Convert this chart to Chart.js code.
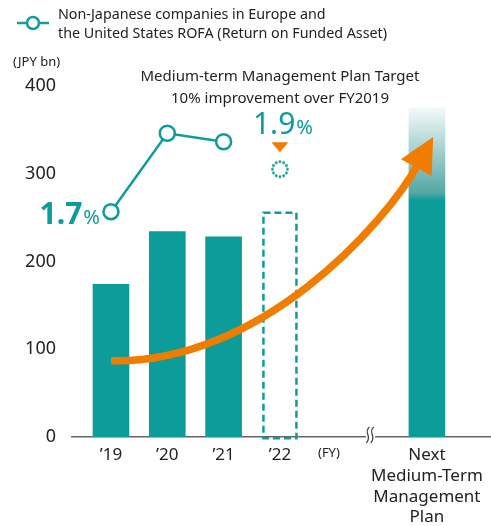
<!DOCTYPE html>
<html>
<head>
<meta charset="utf-8">
<script src="https://cdn.jsdelivr.net/npm/chart.js@4.4.1/dist/chart.umd.min.js"></script>
<style>
  body { margin: 0; background: #fff; font-family: "Noto Sans", sans-serif; color: #222; }
  #wrap { position: relative; width: 491px; height: 526px; overflow: hidden; }
  #c { position: absolute; left: 0; top: 0; }
  .txt { position: absolute; white-space: nowrap; }
</style>
</head>
<body>
<div id="wrap">
  <canvas id="c" width="491" height="526"></canvas>
  <svg style="position:absolute;left:14px;top:14px" width="40" height="18">
    <line x1="3" y1="9" x2="35" y2="9" stroke="#129f9b" stroke-width="2.5"/>
    <circle cx="19" cy="9" r="6" fill="#fff" stroke="#129f9b" stroke-width="2.5"/>
  </svg>
  <div class="txt" style="left:58px;top:4px;font-size:14.3px;line-height:19px">Non-Japanese companies in Europe and<br>the United States ROFA (Return on Funded Asset)</div>
  <div class="txt" style="left:13px;top:52px;font-size:13px">(JPY bn)</div>
  <div class="txt" style="left:130px;top:64px;width:300px;text-align:center;font-size:15px;line-height:22px">Medium-term Management Plan Target<br>10% improvement over FY2019</div>
</div>
<script>
// x positions on the (linear) x axis, one unit per fiscal year
const categories = ['’19', '’20', '’21', '’22'];
const fyLabel = '(FY)';
const nextLabel = ['Next', 'Medium-Term', 'Management', 'Plan'];
const barPos = [0, 1, 2, 3, 5.61];
const fyPos = 3.87;
const breakPos = 4.6;

// JPY bn (last two are targets)
const barValues = [174, 234, 228, 257, 375];
// ROFA %
const rofaPos = [0, 1, 2];
const rofaValues = [1.7, 2.07, 2.03];
const rofaTargetPos = 3;
const rofaTarget = 1.9;

// orange arrow: from '19 to next plan (data units)
const arrowFrom = { x: 0, y: 87 };
const arrowTo = { x: 5.72, y: 342 };

const TEAL = '#0c9d9a';
const ORANGE = '#f07d00';
const FONT = '"Noto Sans", sans-serif';

// dotted circle used as point style for the target
function dottedCircle() {
  const cv = document.createElement('canvas');
  cv.width = 22; cv.height = 22;
  const g = cv.getContext('2d');
  g.fillStyle = TEAL;
  for (let i = 0; i < 12; i++) {
    const a = (i / 12) * Math.PI * 2;
    g.beginPath();
    g.arc(11 + Math.cos(a) * 7.5, 11 + Math.sin(a) * 7.5, 1.4, 0, Math.PI * 2);
    g.fill();
  }
  return cv;
}

function barColor(ctx) {
  const i = ctx.dataIndex;
  if (i === 3) return 'rgba(0,0,0,0)';
  if (i === 4) {
    const chart = ctx.chart;
    if (!chart.chartArea) return TEAL;
    const y = chart.scales.y;
    const top = y.getPixelForValue(barValues[4]);
    const mid = y.getPixelForValue(270);
    const grad = chart.ctx.createLinearGradient(0, top, 0, mid);
    grad.addColorStop(0, '#f4f9f9');
    grad.addColorStop(0.92, '#55a7a6');
    grad.addColorStop(1, TEAL);
    return grad;
  }
  return TEAL;
}

const overlays = {
  id: 'overlays',
  afterDatasetsDraw(chart) {
    const { ctx, scales } = chart;
    const x = scales.x, y = scales.y;

    // dashed outline for the FY2022 target bar
    const bar = chart.getDatasetMeta(0).data[3];
    ctx.save();
    ctx.strokeStyle = TEAL;
    ctx.lineWidth = 2.5;
    ctx.setLineDash([7, 4]);
    const w = bar.width;
    ctx.strokeRect(bar.x - w / 2 + 1.5, bar.y + 1.2, w - 3, bar.base - bar.y);
    ctx.restore();

    // break mark on the x axis
    const bx = x.getPixelForValue(breakPos);
    const by = chart.chartArea.bottom;
    ctx.save();
    ctx.fillStyle = '#fff';
    ctx.fillRect(bx - 4, by - 3, 9, 6);
    ctx.strokeStyle = '#444';
    ctx.lineWidth = 1.3;
    [-2.2, 2.2].forEach((o) => {
      const cx = bx + o;
      ctx.beginPath();
      ctx.moveTo(cx + 1.5, by - 10);
      ctx.bezierCurveTo(cx - 5, by - 4, cx + 5, by - 1, cx - 1.5, by + 6);
      ctx.stroke();
    });
    ctx.restore();

    // orange curved arrow
    const p0 = { x: x.getPixelForValue(arrowFrom.x), y: y.getPixelForValue(arrowFrom.y) };
    const tip = { x: x.getPixelForValue(arrowTo.x), y: y.getPixelForValue(arrowTo.y) };
    const dir = { x: 0.48, y: -0.878 };
    const headLen = 31, headHalf = 17.5;
    const base = { x: tip.x - dir.x * headLen, y: tip.y - dir.y * headLen };
    const p1 = { x: p0.x + (base.x - p0.x) * 0.48, y: p0.y + 4 };
    const p2 = { x: base.x - dir.x * 70, y: base.y - dir.y * 70 };
    ctx.save();
    ctx.strokeStyle = ORANGE;
    ctx.lineWidth = 7.5;
    ctx.beginPath();
    ctx.moveTo(p0.x, p0.y);
    ctx.bezierCurveTo(p1.x, p1.y, p2.x, p2.y, base.x + dir.x * 2, base.y + dir.y * 2);
    ctx.stroke();
    ctx.fillStyle = ORANGE;
    ctx.beginPath();
    ctx.moveTo(tip.x, tip.y);
    ctx.lineTo(base.x - dir.y * headHalf - dir.x * 4, base.y + dir.x * headHalf - dir.y * 4);
    ctx.lineTo(base.x + dir.y * headHalf - dir.x * 4, base.y - dir.x * headHalf - dir.y * 4);
    ctx.closePath();
    ctx.fill();
    ctx.restore();
  },
  afterDraw(chart) {
    const { ctx } = chart;
    ctx.save();
    ctx.textBaseline = 'alphabetic';

    // 1.7% next to the first ROFA point
    const first = chart.getDatasetMeta(1).data[0];
    ctx.fillStyle = TEAL;
    ctx.font = '20px ' + FONT;
    ctx.textAlign = 'right';
    const pctW = ctx.measureText('%').width;
    ctx.fillText('%', first.x - 11, first.y + 12);
    ctx.font = 'bold 30px ' + FONT;
    ctx.fillText(rofaValues[0].toFixed(1), first.x - 12 - pctW, first.y + 12);

    // 1.9% target above the dotted point
    const tgt = chart.getDatasetMeta(2).data[0];
    ctx.textAlign = 'left';
    ctx.font = '30px ' + FONT;
    const numTxt = rofaTarget.toFixed(1);
    const numW = ctx.measureText(numTxt).width;
    ctx.font = '20px ' + FONT;
    const pW = ctx.measureText('%').width;
    const left = tgt.x + 3 - (numW + pW + 1) / 2;
    ctx.font = '30px ' + FONT;
    ctx.fillText(numTxt, left, tgt.y - 35);
    ctx.font = '20px ' + FONT;
    ctx.fillText('%', left + numW + 1, tgt.y - 35);

    // small orange marker
    ctx.fillStyle = ORANGE;
    ctx.beginPath();
    ctx.moveTo(tgt.x - 8.5, tgt.y - 27);
    ctx.lineTo(tgt.x + 8.5, tgt.y - 27);
    ctx.lineTo(tgt.x, tgt.y - 17);
    ctx.closePath();
    ctx.fill();
    ctx.restore();
  }
};

const xLabels = [...categories, fyLabel, nextLabel];

new Chart(document.getElementById('c'), {
  type: 'bar',
  data: {
    datasets: [
      {
        type: 'bar',
        data: barPos.map((p, i) => ({ x: p, y: barValues[i] })),
        backgroundColor: barColor,
        barThickness: 36,
        yAxisID: 'y',
        order: 3,
      },
      {
        type: 'line',
        data: rofaPos.map((p, i) => ({ x: p, y: rofaValues[i] })),
        borderColor: TEAL,
        borderWidth: 2.5,
        pointRadius: 7.5,
        pointBorderWidth: 2.5,
        pointBackgroundColor: '#fff',
        pointBorderColor: TEAL,
        yAxisID: 'y2',
        order: 1,
      },
      {
        type: 'line',
        data: [{ x: rofaTargetPos, y: rofaTarget }],
        showLine: false,
        pointStyle: dottedCircle(),
        yAxisID: 'y2',
        order: 2,
      },
    ],
  },
  options: {
    responsive: false,
    animation: false,
    layout: { autoPadding: false, padding: { top: 86, right: 1, left: 0, bottom: 0 } },
    plugins: {
      legend: { display: false },
      tooltip: { enabled: false },
    },
    scales: {
      x: {
        type: 'linear',
        offset: false,
        min: -0.692,
        max: 6.73,
        grid: { display: false },
        border: { display: true, color: '#666', width: 1.5 },
        afterBuildTicks: (s) => {
          s.ticks = [...barPos.slice(0, 4), fyPos, barPos[4]].map((v) => ({ value: v }));
        },
        afterFit: (s) => {
          s.height = 89;
          s.paddingLeft = 0;
          s.paddingRight = 0;
        },
        ticks: {
          autoSkip: false,
          maxRotation: 0,
          padding: 0,
          color: '#222',
          font: (c) => (c.index === 4 ? { size: 13, family: FONT } : { size: 17, family: FONT, lineHeight: 1.22 }),
          callback: (v, i) => xLabels[i],
        },
      },
      y: {
        min: 0,
        max: 400,
        grid: { display: false },
        border: { display: false },
        afterFit: (s) => {
          s.width = 72;
          s.paddingTop = 0;
          s.paddingBottom = 0;
        },
        ticks: {
          stepSize: 100,
          padding: 8,
          color: '#222',
          font: { size: 18, family: FONT },
        },
      },
      y2: {
        display: false,
        min: 0.637,
        max: 2.293,
      },
    },
  },
  plugins: [overlays],
});
</script>
</body>
</html>
